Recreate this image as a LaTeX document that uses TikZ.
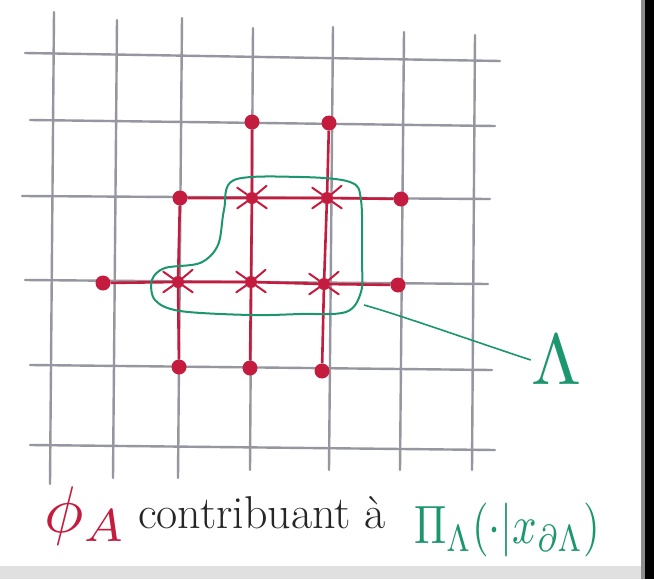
\documentclass[tikz,border=0pt]{standalone}
\usepackage{graphicx}
\usetikzlibrary{calc}
\definecolor{pred}{RGB}{196,28,62}
\definecolor{pgreen}{RGB}{28,150,110}
\definecolor{pgrid}{RGB}{150,150,160}
\tikzset{
  gridline/.style={draw=pgrid, line width=2.4pt, line cap=round},
  edge/.style={draw=pred, line width=2.6pt},
  site/.style={circle, fill=pred, inner sep=0pt, minimum size=15pt},
  starsite/.style={circle, fill=pred, inner sep=0pt, minimum size=12pt},
  spoke/.style={draw=pred, line width=2pt, line cap=round},
  contour/.style={draw=pgreen, line width=2pt},
}
\begin{document}
\begin{tikzpicture}[x=1pt,y=-1pt]
\useasboundingbox (0,0) rectangle (654,579);
\fill[white] (0,0) rectangle (654,579);
\fill[black!12] (0,566) rectangle (654,579);
% grid
\foreach \a/\b/\c/\d in {25/53/500/61, 30/120/495/126, 22/196/490/199, 25/280/488/284, 30/365/492/370, 30/445/495/450}
  \draw[gridline] (\a,\b) -- (\c,\d);
\foreach \a/\b/\c/\d in {54/12/50/484, 117/20/113/478, 182/18/178/478, 253/28/250/470, 333/27/329/470, 404/32/400/470, 475/35/472/470}
  \draw[gridline] (\a,\b) -- (\c,\d);
% sites
\node[site] (p1) at (252,122) {};
\node[site] (p2) at (329,123) {};
\node[site] (q0) at (180,198) {};
\node[starsite] (q1) at (252,198) {};
\node[starsite] (q2) at (327,198) {};
\node[site] (q3) at (401,199) {};
\node[site] (r0) at (103,283) {};
\node[starsite] (r1) at (178,282) {};
\node[starsite] (r2) at (251,282) {};
\node[starsite] (r3) at (324,284) {};
\node[site] (r4) at (398,285) {};
\node[site] (s1) at (179,367) {};
\node[site] (s2) at (250,368) {};
\node[site] (s3) at (322,371) {};
% edges
\draw[edge] (p1) -- (q1) -- (r2) -- (s2);
\draw[edge] (p2) -- (q2) -- (r3) -- (s3);
\draw[edge] (q0) -- (r1) -- (s1);
\draw[edge] (q0) -- (q1) -- (q2) -- (q3);
\draw[edge] (r0) -- (r1) -- (r2) -- (r3) -- (r4);
% spokes
\foreach \n in {q1,q2,r1,r2,r3}{
  \draw[spoke] (\n.center) -- ++(35:18);
  \draw[spoke] (\n.center) -- ++(145:18);
  \draw[spoke] (\n.center) -- ++(215:18);
  \draw[spoke] (\n.center) -- ++(320:19);
}
% Lambda contour
\draw[contour] plot[smooth cycle, tension=0.55] coordinates {
  (234,180) (300,177) (350,182) (361,200) (362,260) (361,292) (346,312)
  (300,314) (250,315) (180,311) (155,300) (152,280) (165,268) (200,263)
  (218,245) (224,210)};
\coordinate (lead) at (364,305);
\node[text=pgreen, inner sep=0pt] (lam) at (556,360) {\scalebox{7.2}{$\Lambda$}};
\draw[pgreen, line width=1.6pt] (lead) .. controls (400,315) and (470,340) .. (lam.west);
% caption
\node[anchor=base west, inner sep=0pt, text=pred] (phi) at (44,532) {\scalebox{6.6}{$\phi_A$}};
\node[anchor=base west, inner sep=0pt, text=black!85, font=\fontsize{46}{46}\selectfont] (contrib) at (138,528) {contribuant à};
\node[anchor=base west, inner sep=0pt, text=pgreen] (pi) at (414,543) {\scalebox{4.3}[5.4]{$\Pi_\Lambda(\cdot|x_{\partial\Lambda})$}};
% right edge
\fill[black!45] (641,0) rectangle (645,579);
\fill[black] (645,0) rectangle (654,579);
\end{tikzpicture}
\end{document}
